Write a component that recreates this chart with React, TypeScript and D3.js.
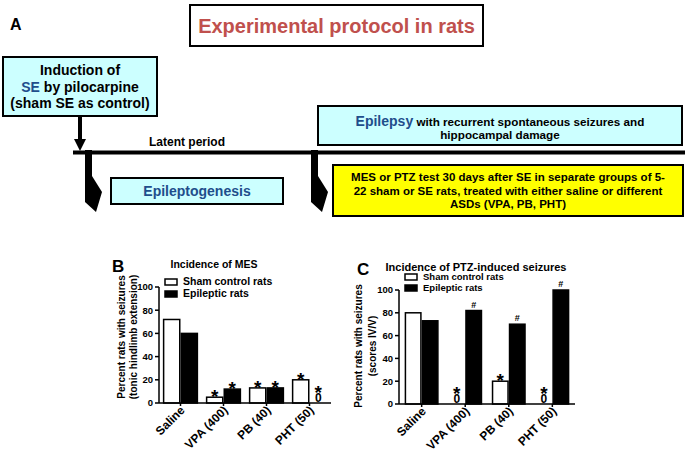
import React from 'react';
import * as d3 from 'd3';

// drug groups on the x axis
const categories = ['Saline', 'VPA (400)', 'PB (40)', 'PHT (50)'];
const seriesNames = ['Sham control rats', 'Epileptic rats'];

// B: incidence of MES (%)
const mesSham = [72, 5, 13, 20];
const mesEpileptic = [60, 12, 13, 0];
const mesShamMark = ['', '*', '*', '*'];
const mesEpilepticMark = ['', '*', '*', '*'];

// C: incidence of PTZ-induced seizures (%)
const ptzSham = [80, 0, 20, 0];
const ptzEpileptic = [73, 82, 70, 100];
const ptzShamMark = ['', '*', '*', '*'];
const ptzEpilepticMark = ['', '#', '#', '#'];

const yTicks = [0, 20, 40, 60, 80, 100];

const FONT = 'Liberation Sans, Arial, Helvetica, sans-serif';
const CYAN = '#ccffff';
const BLUE = '#1f4e8c';

const Panel = (props: any) => {
  const { letter, letterX, title, titleX, titleSize, legendX, legendY, legendSize,
    x0, x1, yBottom, yTop, padIn, padOut, sham, epi, shamMark, epiMark, yLabel, yLabelX, yLabelY } = props;

  const x = d3.scaleBand().domain(categories).range([x0, x1]).paddingInner(padIn).paddingOuter(padOut);
  const xs = d3.scaleBand().domain(seriesNames).range([0, x.bandwidth()]);
  const y = d3.scaleLinear().domain([0, 100]).range([yBottom, yTop]);
  const values = [sham, epi];
  const marks = [shamMark, epiMark];

  return (
    <g fontFamily={FONT} fontWeight="bold">
      <text x={letterX} y={yTop - 15} fontSize={17}>{letter}</text>
      <text x={titleX} y={yTop - 19} fontSize={titleSize} textAnchor="middle">{title}</text>

      {seriesNames.map((s, i) => (
        <g key={s}>
          <rect x={legendX} y={legendY[i]} width={12} height={6}
            fill={i === 0 ? '#fff' : '#000'} stroke="#000" strokeWidth={1.5} />
          <text x={legendX + 18} y={legendY[i] + 6} fontSize={legendSize}>{s}</text>
        </g>
      ))}

      {yLabel.map((t: string, i: number) => (
        <text key={t} transform={`translate(${yLabelX[i]},${yLabelY}) rotate(-90)`}
          textAnchor="middle" fontSize={10} dy="0.35em">{t}</text>
      ))}

      {values.map((vals: number[], si: number) =>
        vals.map((v, ci) => {
          const bx = (x(categories[ci]) as number) + (xs(seriesNames[si]) as number);
          const bw = xs.bandwidth();
          const cx = bx + bw / 2;
          const m = marks[si][ci];
          const top = y(v);
          return (
            <g key={`${si}-${ci}`}>
              {v > 0 && (
                <rect x={bx + 0.75} y={top} width={bw - 1.5} height={yBottom - top}
                  fill={si === 0 ? '#fff' : '#000'} stroke="#000" strokeWidth={1.5} />
              )}
              {v === 0 && (
                <text x={cx} y={yBottom - 1} fontSize={12} textAnchor="middle">0</text>
              )}
              {m === '*' && (
                <text x={cx} y={v === 0 ? yBottom - 4 : top + 6} fontSize={19} textAnchor="middle">*</text>
              )}
              {m === '#' && (
                <text x={cx} y={top - 3} fontSize={9} textAnchor="middle">#</text>
              )}
            </g>
          );
        })
      )}

      {/* y axis */}
      <line x1={x0} x2={x0} y1={yTop} y2={yBottom} stroke="#000" strokeWidth={1.5} />
      {yTicks.map((t) => (
        <g key={t}>
          <line x1={x0 - 4} x2={x0} y1={y(t)} y2={y(t)} stroke="#000" strokeWidth={1.5} />
          <text x={x0 - 6} y={y(t)} dy="0.35em" fontSize={9.5} textAnchor="end">{t}</text>
        </g>
      ))}

      {/* x axis */}
      <line x1={x0} x2={x1} y1={yBottom} y2={yBottom} stroke="#000" strokeWidth={1.5} />
      {categories.map((c) => {
        const cx = (x(c) as number) + x.bandwidth() / 2;
        return (
          <g key={c}>
            <line x1={cx} x2={cx} y1={yBottom} y2={yBottom + 3} stroke="#000" strokeWidth={1.5} />
            <text transform={`translate(${cx + 5},${yBottom + 8}) rotate(-45)`}
              textAnchor="end" fontSize={12}>{c}</text>
          </g>
        );
      })}
    </g>
  );
};

// bent arrow from the time line into a box
const bentArrow = (sx: number) =>
  `${sx},150 ${sx + 7},150 ${sx + 7},176 ${sx + 17},192 ${sx + 11},212 ${sx},202`;

const App = () => {
  return (
    <svg width={685} height={454} style={{ position: 'absolute', left: 0, top: 0, background: '#fff' }}>
      <g fontFamily={FONT} fontWeight="bold">
        <text x={10} y={30} fontSize={16}>A</text>

        <rect x={190} y={5} width={293} height={41} fill="#fff" stroke="#000" strokeWidth={2} />
        <text x={336.5} y={33} fontSize={20} textAnchor="middle" fill="#c0504d">Experimental protocol in rats</text>

        <rect x={3} y={57} width={154} height={59} fill={CYAN} stroke="#000" strokeWidth={2} />
        <text x={80} y={75} fontSize={14} textAnchor="middle">Induction of</text>
        <text x={80} y={92} fontSize={14} textAnchor="middle">
          <tspan fill={BLUE}>SE</tspan> by pilocarpine
        </text>
        <text x={80} y={108} fontSize={14} textAnchor="middle">(sham SE as control)</text>

        <line x1={80} x2={80} y1={117} y2={140} stroke="#000" strokeWidth={4} />
        <polygon points="74,139 86,139 80,151" fill="#000" />

        <line x1={73} x2={685} y1={152.5} y2={152.5} stroke="#000" strokeWidth={4} />
        <text x={187} y={146} fontSize={12} textAnchor="middle">Latent period</text>

        <rect x={318} y={106} width={364} height={39} fill={CYAN} stroke="#000" strokeWidth={2} />
        <text x={500} y={126} fontSize={11.7} textAnchor="middle">
          <tspan fill={BLUE} fontSize={14}>Epilepsy</tspan> with recurrent spontaneous seizures and
        </text>
        <text x={500} y={139} fontSize={11.7} textAnchor="middle">hippocampal damage</text>

        <polygon points={bentArrow(85)} fill="#000" />
        <rect x={111} y={178} width={172} height={26} fill={CYAN} stroke="#000" strokeWidth={2} />
        <text x={197} y={196} fontSize={14} textAnchor="middle" fill={BLUE}>Epileptogenesis</text>

        <polygon points={bentArrow(311)} fill="#000" />
        <rect x={333} y={165} width={350} height={51} fill="#ffff00" stroke="#000" strokeWidth={2} />
        <text x={508} y={181} fontSize={11.5} textAnchor="middle">MES or PTZ test 30 days after SE in separate groups of 5-</text>
        <text x={508} y={194.5} fontSize={11.5} textAnchor="middle">22 sham or SE rats, treated with either saline or different</text>
        <text x={508} y={208} fontSize={11.5} textAnchor="middle">ASDs (VPA, PB, PHT)</text>
      </g>

      <Panel letter="B" letterX={112} title="Incidence of MES" titleX={214} titleSize={10.5}
        legendX={165} legendY={[279, 291]} legendSize={10.5}
        x0={159} x1={331} yBottom={403} yTop={287} padIn={0.18} padOut={0.09}
        sham={mesSham} epi={mesEpileptic} shamMark={mesShamMark} epiMark={mesEpilepticMark}
        yLabel={['Percent rats with seizures', '(tonic hindlimb extension)']} yLabelX={[121, 133]} yLabelY={337} />

      <Panel letter="C" letterX={357} title="Incidence of PTZ-induced seizures" titleX={476} titleSize={11}
        legendX={405} legendY={[274, 285]} legendSize={9.5}
        x0={399} x1={575} yBottom={404} yTop={290} padIn={0.22} padOut={0.13}
        sham={ptzSham} epi={ptzEpileptic} shamMark={ptzShamMark} epiMark={ptzEpilepticMark}
        yLabel={['Percent rats with seizures', '(scores IV/V)']} yLabelX={[358, 372]} yLabelY={346} />
    </svg>
  );
};

export default App;
